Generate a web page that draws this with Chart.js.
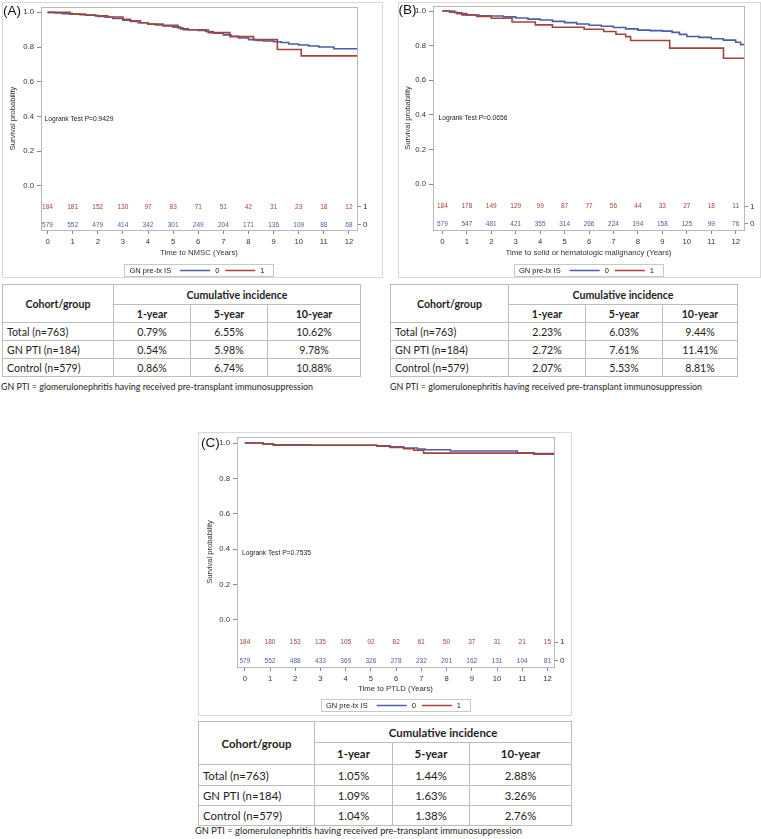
<!DOCTYPE html>
<html>
<head>
<meta charset="utf-8">
<title>Cumulative incidence of malignancy by GN pre-transplant immunosuppression</title>
<script src="https://cdn.jsdelivr.net/npm/chart.js@4.4.1/dist/chart.umd.min.js"></script>
<style>
  html, body { margin: 0; padding: 0; background: #fff; }
  #page { position: relative; width: 761px; height: 839px; overflow: hidden; background: #fff; }
  #page canvas { position: absolute; }
  table.inc { position: absolute; border-collapse: collapse; table-layout: fixed; font-family: Lato, "Open Sans", sans-serif; color: #1e1e1e; }
  table.inc td { border: 1px solid #bdbdbd; padding: 0; text-align: center; white-space: nowrap; overflow: hidden; }
  table.inc td.head { font-weight: bold; }
  table.inc td.name { text-align: left; padding-left: 4px; }
  .note { position: absolute; font-family: Lato, "Open Sans", sans-serif; color: #1e1e1e; white-space: nowrap; }
</style>
</head>
<body>
<div id="page">
  <canvas id="chartA" width="381" height="276" style="left:2px;top:2px"></canvas>
  <canvas id="chartB" width="363" height="276" style="left:398px;top:2px"></canvas>
  <canvas id="chartC" width="374" height="284" style="left:198px;top:432px"></canvas>
  <table class="inc" id="tableA"></table>
  <table class="inc" id="tableB"></table>
  <table class="inc" id="tableC"></table>
  <div class="note" id="noteA"></div>
  <div class="note" id="noteB"></div>
  <div class="note" id="noteC"></div>
</div>
<script>
// Shared labels
const years = [0, 1, 2, 3, 4, 5, 6, 7, 8, 9, 10, 11, 12];
const yTicks = [0, 0.2, 0.4, 0.6, 0.8, 1.0];
const groups = ["0", "1"];
const legendTitle = "GN pre-tx IS";
const yTitle = "Survival probability";
const cohorts = ["Total (n=763)", "GN PTI (n=184)", "Control (n=579)"];
const horizons = ["1-year", "5-year", "10-year"];
const footnote = "GN PTI = glomerulonephritis having received pre-transplant immunosuppression";

// Panel A - NMSC ([years, survival])
const kmA0 = [[0, 1], [0.3, 0.997], [0.6, 0.993], [1.0, 0.99], [1.3, 0.986], [1.6, 0.983], [2.0, 0.977], [2.3, 0.972],
  [2.6, 0.965], [3.0, 0.955], [3.3, 0.948], [3.6, 0.94], [4.0, 0.932], [4.3, 0.928], [4.6, 0.922], [5.0, 0.915],
  [5.3, 0.905], [5.6, 0.9], [6.0, 0.896], [6.3, 0.89], [6.6, 0.88], [7.0, 0.87], [7.3, 0.862], [7.6, 0.852],
  [8.0, 0.843], [8.3, 0.838], [8.6, 0.835], [9.0, 0.831], [9.3, 0.826], [9.6, 0.818], [10.0, 0.812], [10.4, 0.806],
  [10.8, 0.8], [11.4, 0.79], [12.32, 0.79]];
const kmA1 = [[0, 1], [0.9, 0.99], [1.5, 0.985], [1.9, 0.98], [2.4, 0.973], [3.0, 0.96], [3.3, 0.952], [3.7, 0.94],
  [4.0, 0.932], [4.6, 0.925], [5.2, 0.91], [5.4, 0.9], [6.4, 0.883], [7.26, 0.86], [8.2, 0.843], [9.15, 0.786],
  [10.1, 0.749], [12.32, 0.749]];
const riskA0 = [579, 552, 479, 414, 342, 301, 249, 204, 171, 136, 109, 88, 68];
const riskA1 = [184, 181, 152, 130, 97, 83, 71, 51, 42, 31, 23, 18, 12];
const incA = [[0.79, 6.55, 10.62], [0.54, 5.98, 9.78], [0.86, 6.74, 10.88]];

// Panel B - solid or hematologic malignancy
const kmB0 = [[0, 1], [0.3, 0.993], [0.6, 0.985], [1.0, 0.977], [1.5, 0.973], [2.0, 0.971], [2.5, 0.966], [3.0, 0.96],
  [3.5, 0.953], [4.0, 0.948], [4.5, 0.94], [5.0, 0.933], [5.5, 0.925], [6.0, 0.918], [6.5, 0.912], [7.0, 0.905],
  [7.5, 0.897], [8.0, 0.89], [8.5, 0.887], [9.0, 0.884], [9.4, 0.877], [9.7, 0.865], [10.0, 0.853], [10.5, 0.848],
  [11.0, 0.84], [11.5, 0.832], [12.0, 0.82], [12.2, 0.806], [12.34, 0.804]];
const kmB1 = [[0, 1], [0.5, 0.99], [0.8, 0.978], [1.4, 0.968], [2.0, 0.958], [2.85, 0.937], [3.8, 0.92], [4.5, 0.906],
  [5.8, 0.895], [6.6, 0.882], [7.1, 0.866], [7.5, 0.852], [7.7, 0.83], [9.3, 0.786], [11.5, 0.727], [12.34, 0.727]];
const riskB0 = [579, 547, 481, 421, 355, 314, 266, 224, 194, 158, 125, 99, 76];
const riskB1 = [184, 178, 149, 129, 99, 87, 77, 56, 44, 33, 27, 18, 11];
const incB = [[2.23, 6.03, 9.44], [2.72, 7.61, 11.41], [2.07, 5.53, 8.81]];

// Panel C - PTLD
const kmC0 = [[0, 1], [0.73, 0.994], [1.13, 0.99], [2.6, 0.987], [5.23, 0.984], [5.76, 0.978], [6.3, 0.972],
  [6.85, 0.966], [7.15, 0.962], [8.15, 0.955], [10.8, 0.945], [11.46, 0.94], [12.26, 0.94]];
const kmC1 = [[0, 1], [0.73, 0.994], [1.13, 0.987], [5.23, 0.982], [5.76, 0.975], [6.3, 0.968], [6.7, 0.959],
  [7.09, 0.943], [11.46, 0.937], [12.26, 0.937]];
const riskC0 = [579, 552, 488, 433, 369, 326, 278, 232, 201, 162, 131, 104, 81];
const riskC1 = [184, 180, 153, 135, 105, 92, 82, 61, 50, 37, 31, 21, 15];
const incC = [[1.05, 1.44, 2.88], [1.09, 1.63, 3.26], [1.04, 1.38, 2.76]];

const blue = "#4a5ea6";
const red = "#a5433a";
const FONT = "Liberation Sans";

// Draws frames, panel letter, logrank text, numbers at risk and the legend
function kmExtras(p) {
  return {
    id: "kmExtras",
    beforeDatasetsDraw(chart) {
      const { ctx, chartArea: a } = chart;
      ctx.save();
      ctx.strokeStyle = "#b9b9b9";
      ctx.lineWidth = 1;
      ctx.strokeRect(Math.round(a.left) + 0.5, Math.round(a.top) + 0.5,
        Math.round(a.right - a.left), Math.round(a.bottom - a.top));
      ctx.restore();
    },
    afterDraw(chart) {
      const { ctx, chartArea: a, scales } = chart;
      ctx.save();
      ctx.strokeStyle = "#d9d9d9";
      ctx.lineWidth = 1;
      ctx.strokeRect(0.5, 0.5, chart.width - 1, chart.height - 1);

      ctx.textBaseline = "middle";
      ctx.textAlign = "left";
      ctx.fillStyle = "#111";
      ctx.font = `13.5px "${FONT}"`;
      ctx.fillText(p.letter, p.letterX, p.letterY);

      ctx.font = `6.7px "${FONT}"`;
      ctx.fillStyle = "#222";
      ctx.fillText(p.logrank, a.left + p.logrankDx, scales.y.getPixelForValue(p.logrankY));

      // numbers at risk
      ctx.textAlign = "center";
      ctx.font = `6.5px "${FONT}"`;
      p.risk.forEach(row => {
        ctx.fillStyle = row.color;
        const y = scales.y.getPixelForValue(row.y);
        row.counts.forEach((n, i) => ctx.fillText(String(n), scales.x.getPixelForValue(years[i]), y));
      });

      // legend
      ctx.font = `7.5px "${FONT}"`;
      ctx.textAlign = "left";
      const ds = chart.data.datasets;
      const tw = ctx.measureText(legendTitle).width;
      const lw = ds.map(d => ctx.measureText(d.label).width);
      const total = 5 + tw + 9 + lw.reduce((s, w) => s + 30 + 5 + w + 6, 0) - 6 + 9;
      let x = (a.left + a.right) / 2 - total / 2;
      const h = 12;
      ctx.strokeStyle = "#c8c8c8";
      ctx.strokeRect(Math.round(x) + 0.5, Math.round(p.legendY - h / 2) + 0.5, Math.round(total), h);
      ctx.fillStyle = "#222";
      x += 5;
      ctx.fillText(legendTitle, x, p.legendY + 0.5);
      x += tw + 9;
      ds.forEach((d, i) => {
        ctx.strokeStyle = d.borderColor;
        ctx.lineWidth = 1.5;
        ctx.beginPath();
        ctx.moveTo(x, p.legendY + 0.5);
        ctx.lineTo(x + 30, p.legendY + 0.5);
        ctx.stroke();
        x += 35;
        ctx.fillStyle = "#222";
        ctx.fillText(d.label, x, p.legendY + 0.5);
        x += lw[i] + 6;
      });
      ctx.restore();
    }
  };
}

function makeChart(id, p) {
  const canvas = document.getElementById(id);
  const W = canvas.width, H = canvas.height;
  const tickFont = { family: FONT, size: 7.7 };
  const sideRows = p.risk.map(r => r.y);
  return new Chart(canvas, {
    type: "line",
    data: {
      datasets: [
        { label: groups[0], data: p.km0.map(([x, y]) => ({ x, y })), borderColor: blue, order: 1 },
        { label: groups[1], data: p.km1.map(([x, y]) => ({ x, y })), borderColor: red, order: 0 }
      ].map(d => Object.assign(d, { stepped: true, pointRadius: 0, borderWidth: 1.6, fill: false }))
    },
    options: {
      responsive: false,
      animation: false,
      layout: { padding: { top: p.area.top, left: 0, right: 0, bottom: 0 } },
      plugins: { legend: { display: false }, tooltip: { enabled: false } },
      scales: {
        x: {
          type: "linear", min: p.xMin, max: p.xMax,
          afterBuildTicks: s => { s.ticks = years.map(v => ({ value: v })); },
          afterFit: s => { s.height = H - p.area.bottom; s.paddingLeft = 0; s.paddingRight = 0; },
          grid: { drawOnChartArea: false, drawTicks: true, tickLength: 4, color: "#8a8a8a" },
          border: { display: false },
          ticks: { font: tickFont, color: "#333", padding: 3.5, maxRotation: 0, autoSkip: false, callback: v => String(v) },
          title: { display: true, text: p.xTitle, color: "#333", font: { family: FONT, size: 7.8 }, padding: { top: 0, bottom: p.xTitlePad } }
        },
        y: {
          type: "linear", position: "left", min: p.yMin, max: p.yMax,
          afterBuildTicks: s => { s.ticks = yTicks.map(v => ({ value: v })); },
          afterFit: s => { s.width = p.area.left; s.paddingTop = 0; s.paddingBottom = 0; },
          grid: { drawOnChartArea: false, drawTicks: true, tickLength: 4, color: "#8a8a8a" },
          border: { display: false },
          ticks: { font: tickFont, color: "#333", padding: 3, callback: v => v.toFixed(1) },
          title: { display: true, text: yTitle, color: "#333", font: { family: FONT, size: 7.6 }, padding: { top: p.yTitlePad, bottom: 0 } }
        },
        y2: {
          type: "linear", position: "right", min: p.yMin, max: p.yMax,
          afterBuildTicks: s => { s.ticks = sideRows.map(v => ({ value: v })); },
          afterFit: s => { s.width = W - p.area.right; s.paddingTop = 0; s.paddingBottom = 0; },
          grid: { drawOnChartArea: false, drawTicks: true, tickLength: 4, color: "#8a8a8a" },
          border: { display: false },
          ticks: { font: { family: FONT, size: 8 }, color: "#333", padding: 2, callback: (v, i) => p.risk[i].label }
        }
      }
    },
    plugins: [kmExtras(p)]
  });
}

makeChart("chartA", {
  km0: kmA0, km1: kmA1, xMin: -0.26, xMax: 12.32, yMin: -0.255, yMax: 1.031,
  area: { left: 39, right: 355, top: 5, bottom: 228 },
  xTitle: "Time to NMSC (Years)", xTitlePad: 20, yTitlePad: 6,
  letter: "(A)", letterX: 1, letterY: 9.5,
  logrank: "Logrank Test P=0.9429", logrankDx: 3.5, logrankY: 0.383,
  risk: [{ label: groups[1], y: -0.122, counts: riskA1, color: red }, { label: groups[0], y: -0.226, counts: riskA0, color: blue }],
  legendY: 268
});

makeChart("chartB", {
  km0: kmB0, km1: kmB1, xMin: -0.385, xMax: 12.34, yMin: -0.264, yMax: 1.029,
  area: { left: 35, right: 346, top: 4, bottom: 228 },
  xTitle: "Time to solid or hematologic malignancy (Years)", xTitlePad: 20, yTitlePad: 5,
  letter: "(B)", letterX: 0.5, letterY: 8.5,
  logrank: "Logrank Test P=0.0656", logrankDx: 5.5, logrankY: 0.381,
  risk: [{ label: groups[1], y: -0.129, counts: riskB1, color: red }, { label: groups[0], y: -0.229, counts: riskB0, color: blue }],
  legendY: 268
});

makeChart("chartC", {
  km0: kmC0, km1: kmC1, xMin: -0.31, xMax: 12.26, yMin: -0.266, yMax: 1.034,
  area: { left: 39, right: 356, top: 5, bottom: 235 },
  xTitle: "Time to PTLD (Years)", xTitlePad: 22.5, yTitlePad: 7.5,
  letter: "(C)", letterX: 3, letterY: 11.3,
  logrank: "Logrank Test P=0.7535", logrankDx: 5, logrankY: 0.377,
  risk: [{ label: groups[1], y: -0.126, counts: riskC1, color: red }, { label: groups[0], y: -0.232, counts: riskC0, color: blue }],
  legendY: 273
});

// Cumulative incidence tables
function buildTable(id, inc, box) {
  const t = document.getElementById(id);
  t.style.left = box.left + "px";
  t.style.top = box.top + "px";
  t.style.width = box.cols.reduce((a, b) => a + b, 0) + "px";
  t.style.fontSize = box.font + "px";
  let html = "<colgroup>" + box.cols.map(w => `<col style="width:${w}px">`).join("") + "</colgroup>";
  html += `<tr style="height:${box.rows[0]}px"><td class="head" rowspan="2">Cohort/group</td><td class="head" colspan="3">Cumulative incidence</td></tr>`;
  html += `<tr style="height:${box.rows[1]}px">` + horizons.map(hz => `<td class="head">${hz}</td>`).join("") + "</tr>";
  cohorts.forEach((c, i) => {
    html += `<tr style="height:${box.rows[i + 2]}px"><td class="name">${c}</td>` +
      inc[i].map(v => `<td>${v.toFixed(2)}%</td>`).join("") + "</tr>";
  });
  t.innerHTML = html;
}

function placeNote(id, left, top, size) {
  const n = document.getElementById(id);
  n.textContent = footnote;
  n.style.left = left + "px";
  n.style.top = top + "px";
  n.style.fontSize = size + "px";
}

buildTable("tableA", incA, { left: 2, top: 284, cols: [111, 77, 77, 93], rows: [20, 18, 18, 18, 18], font: 10.6 });
buildTable("tableB", incB, { left: 390, top: 284, cols: [118, 77, 77, 75], rows: [20, 18, 18, 18, 18], font: 10.6 });
buildTable("tableC", incC, { left: 198, top: 721, cols: [116, 78, 77, 102], rows: [21, 22, 21, 20, 20], font: 11.4 });
placeNote("noteA", 1, 381, 8.9);
placeNote("noteB", 390, 381, 8.9);
placeNote("noteC", 195, 825, 9.3);
</script>
</body>
</html>
